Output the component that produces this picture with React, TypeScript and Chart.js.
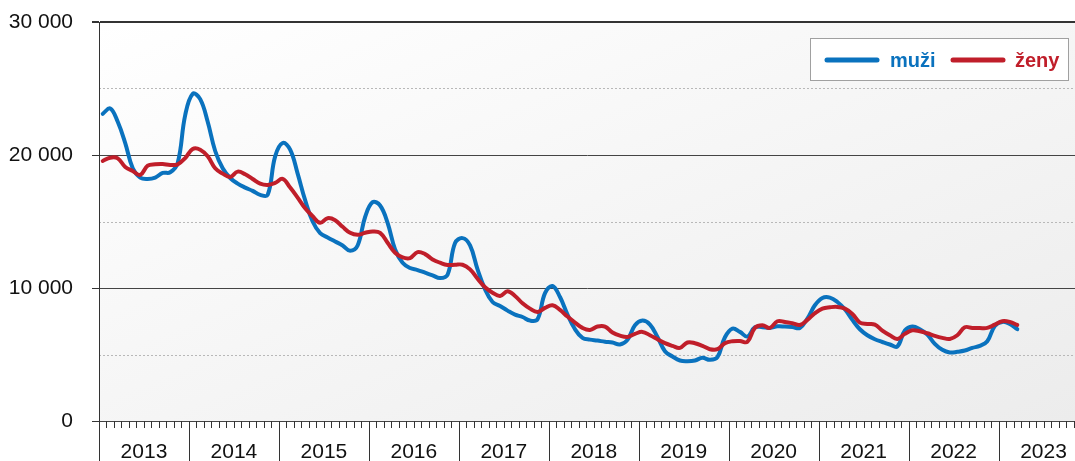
import React, { useEffect, useRef } from "react";
import { Chart, registerables } from "chart.js";

Chart.register(...registerables);

const yearLabels = ["2013", "2014", "2015", "2016", "2017", "2018", "2019", "2020", "2021", "2022", "2023"];
const seriesNames = ["muži", "ženy"];
const seriesColors = ["#0a72be", "#c01e2a"];

// monthly values, Jan 2013 – Mar 2023
const muzi = [
  23100, 23500, 22500, 20900, 19000, 18300, 18200, 18300, 18650, 18700, 19400, 23000,
  24600, 24200, 22500, 20300, 19000, 18270, 17850, 17550, 17300, 17000, 17000, 19900,
  20900, 20400, 18600, 16600, 15000, 14130, 13800, 13500, 13200, 12800, 13200, 15340,
  16450, 16200, 14900, 12900, 11900, 11500, 11350, 11150, 10950, 10750, 11000, 13380,
  13750, 13200, 11400, 9900, 8950, 8650, 8300, 8000, 7820, 7550, 7650, 9620,
  10150, 9320, 8000, 6900, 6250, 6120, 6050, 5960, 5900, 5750, 6100, 7200,
  7550, 7250, 6320, 5250, 4850, 4550, 4500, 4550, 4750, 4600, 4800, 6300,
  6950, 6700, 6350, 7050, 7050, 7000, 7120, 7100, 7060, 7000, 7700, 8700,
  9250, 9280, 8950, 8400, 7600, 6900, 6450, 6150, 5940, 5750, 5600, 6800,
  7100, 6900, 6500, 5800, 5350, 5150, 5200, 5300, 5500, 5650, 6000, 7150,
  7450, 7300, 6900,
];
const zeny = [
  19550, 19800, 19750, 19100, 18800, 18500, 19200, 19300, 19320, 19250, 19300, 19770,
  20450, 20400, 19900, 19000, 18600, 18350, 18750, 18550, 18200, 17850, 17750, 17900,
  18200, 17550, 16800, 16000, 15400, 14900, 15250, 15100, 14600, 14150, 14000, 14150,
  14250, 14150, 13400, 12650, 12300, 12250, 12700, 12550, 12150, 11900, 11730, 11750,
  11750, 11400, 10700, 10050, 9650, 9400, 9750, 9400, 8850, 8450, 8200, 8500,
  8700, 8350, 7850, 7400, 7000, 6850, 7100, 7100, 6650, 6420, 6320, 6550,
  6700, 6450, 6150, 5850, 5650, 5500, 5900, 5850, 5650, 5400, 5400, 5850,
  6000, 6020, 5950, 7000, 7200, 7000, 7500, 7450, 7350, 7220, 7600, 8100,
  8450, 8550, 8580, 8450, 8050, 7400, 7300, 7250, 6800, 6450, 6170, 6550,
  6820, 6750, 6600, 6400, 6250, 6170, 6450, 7050, 7000, 6990, 7000, 7250,
  7500, 7450, 7220,
];
const yMajorTicks = [0, 10000, 20000, 30000];
const yMinorLines = [5000, 15000, 25000];

const FONT = "'Liberation Sans', Arial, sans-serif";

const fmt = (v: number) => String(v).replace(/\B(?=(\d{3})+(?!\d))/g, " ");

const decorPlugin = {
  id: "decor",
  beforeDraw(chart: any) {
    const { ctx, chartArea: a, scales } = chart;
    ctx.save();
    const w = a.right - a.left;
    const h = a.bottom - a.top;
    ctx.save();
    ctx.translate(a.left, a.top);
    ctx.scale(w, h);
    const g = ctx.createLinearGradient(0, 0, 1, 1);
    g.addColorStop(0, "#ffffff");
    g.addColorStop(1, "#ececec");
    ctx.fillStyle = g;
    ctx.fillRect(0, 0, 1, 1);
    ctx.restore();
    ctx.strokeStyle = "#b8b8b8";
    ctx.lineWidth = 1;
    ctx.setLineDash([2, 2]);
    yMinorLines.forEach((v) => {
      const y = Math.round(scales.y.getPixelForValue(v)) + 0.5;
      ctx.beginPath();
      ctx.moveTo(a.left, y);
      ctx.lineTo(a.right, y);
      ctx.stroke();
    });
    ctx.restore();
  },
  afterDraw(chart: any) {
    const { ctx, chartArea: a, scales } = chart;
    const x = scales.x;
    ctx.save();
    // month ticks
    ctx.strokeStyle = "#333";
    ctx.lineWidth = 1;
    for (let m = 0; m <= 132; m++) {
      const px = Math.round(x.getPixelForValue(m)) + 0.5;
      if (px > chart.width) break;
      ctx.beginPath();
      ctx.moveTo(px, a.bottom);
      ctx.lineTo(px, m % 12 === 0 ? chart.height : a.bottom + 7);
      ctx.stroke();
    }
    // year labels
    ctx.fillStyle = "#111";
    ctx.font = `21px ${FONT}`;
    ctx.textAlign = "center";
    ctx.textBaseline = "alphabetic";
    yearLabels.forEach((lab, i) => {
      const px = x.getPixelForValue(i * 12 + 6);
      ctx.fillText(lab, px, 458);
    });
    // legend
    const bx = 810.5, by = 38.5, bw = 258, bh = 42;
    ctx.fillStyle = "#ffffff";
    ctx.fillRect(bx, by, bw, bh);
    ctx.strokeStyle = "#a0a0a0";
    ctx.strokeRect(bx, by, bw, bh);
    const items = [
      { x0: 827, x1: 877, tx: 890 },
      { x0: 953, x1: 1003, tx: 1015 },
    ];
    ctx.font = `bold 20px ${FONT}`;
    ctx.textAlign = "left";
    items.forEach((it, i) => {
      ctx.strokeStyle = seriesColors[i];
      ctx.lineWidth = 5;
      ctx.lineCap = "round";
      ctx.beginPath();
      ctx.moveTo(it.x0, 60);
      ctx.lineTo(it.x1, 60);
      ctx.stroke();
      ctx.fillStyle = seriesColors[i];
      ctx.fillText(seriesNames[i], it.tx, 67);
    });
    ctx.restore();
  },
};

export default function App() {
  const ref = useRef<HTMLCanvasElement | null>(null);
  useEffect(() => {
    if (!ref.current) return;
    const toPts = (arr: number[]) => arr.map((v, i) => ({ x: i + 0.5, y: v }));
    const chart = new Chart(ref.current, {
      type: "line",
      data: {
        datasets: [
          {
            label: seriesNames[0],
            data: toPts(muzi),
            borderColor: seriesColors[0],
            borderWidth: 4,
            pointRadius: 0,
            tension: 0.4,
            borderCapStyle: "round",
            borderJoinStyle: "round",
            order: 1,
          },
          {
            label: seriesNames[1],
            data: toPts(zeny),
            borderColor: seriesColors[1],
            borderWidth: 4,
            pointRadius: 0,
            tension: 0.4,
            borderCapStyle: "round",
            borderJoinStyle: "round",
            order: 0,
          },
        ],
      },
      options: {
        responsive: false,
        animation: false,
        layout: { padding: { left: 0, top: 22, right: 0, bottom: 40 } },
        plugins: { legend: { display: false }, tooltip: { enabled: false } },
        scales: {
          x: { type: "linear", min: 0, max: 130.2, display: false },
          y: {
            min: 0,
            max: 30000,
            afterFit: (s: any) => {
              s.width = 99;
              s.paddingTop = 0;
              s.paddingBottom = 0;
            },
            afterBuildTicks: (s: any) => {
              s.ticks = yMajorTicks.map((v) => ({ value: v }));
            },
            ticks: {
              callback: (v: any) => fmt(Number(v)),
              font: { family: FONT, size: 21 },
              color: "#111",
              padding: 19,
            },
            grid: {
              color: (c: any) => (c.tick && c.tick.value === 30000 ? "#333" : "#444"),
              lineWidth: (c: any) => (c.tick && c.tick.value === 30000 ? 2 : 1),
              tickLength: 7,
              tickColor: "#333",
            },
            border: { display: true, color: "#333", width: 1 },
          },
        },
      },
      plugins: [decorPlugin],
    });
    return () => chart.destroy();
  }, []);
  return (
    <div style={{ position: "fixed", left: 0, top: 0, width: 1075, height: 461, background: "#fff" }}>
      <canvas ref={ref} width={1075} height={461} style={{ display: "block" }} />
    </div>
  );
}
